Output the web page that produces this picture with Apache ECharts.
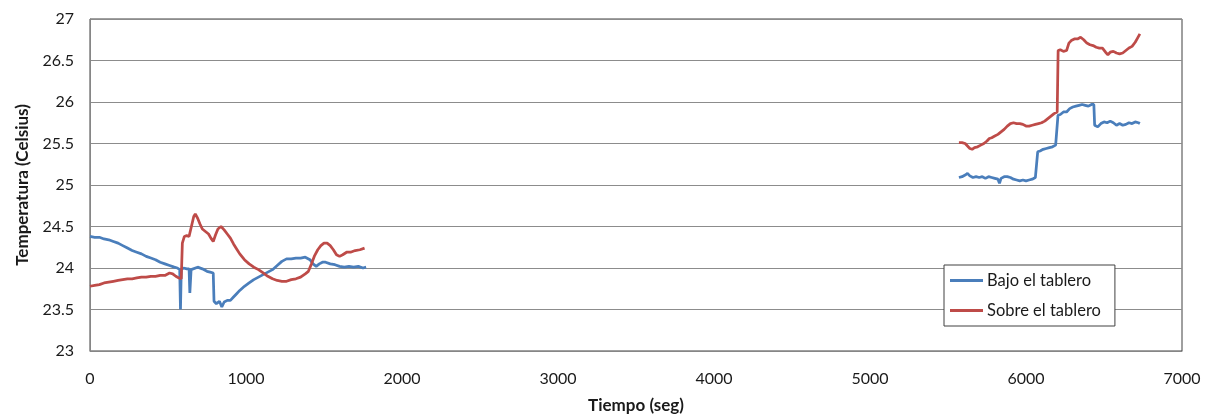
<!DOCTYPE html>
<html>
<head>
<meta charset="utf-8">
<script src="https://cdn.jsdelivr.net/npm/echarts@6/dist/echarts.min.js"></script>
<style>
  html, body { margin: 0; padding: 0; background: #fff; }
  #chart { width: 1216px; height: 417px; }
</style>
</head>
<body>
<div id="chart"></div>
<script>
// Temperature readings [time (s), °C], two recording sessions per sensor
const seriesNames = ['Bajo el tablero', 'Sobre el tablero'];

const bajoSesion1 = [
  [0,24.38],[30,24.37],[60,24.37],[90,24.35],[120,24.34],[150,24.32],[180,24.30],[210,24.27],
  [240,24.24],[270,24.21],[300,24.19],[330,24.17],[360,24.14],[390,24.12],[420,24.10],[450,24.07],
  [480,24.05],[510,24.03],[540,24.01],[560,24.00],[575,23.98],[580,23.50],[585,23.98],[600,24.00],
  [620,23.99],[635,23.99],[640,23.70],[648,23.98],[660,24.00],[690,24.01],[720,23.99],[750,23.96],
  [770,23.95],[790,23.94],[795,23.60],[810,23.57],[830,23.60],[845,23.53],[860,23.59],[880,23.61],
  [900,23.61],[920,23.65],[940,23.69],[960,23.73],[990,23.78],[1020,23.82],[1050,23.86],[1080,23.89],
  [1110,23.92],[1140,23.95],[1170,23.98],[1200,24.03],[1230,24.08],[1260,24.11],[1290,24.11],[1320,24.12],
  [1350,24.12],[1380,24.13],[1410,24.10],[1430,24.05],[1450,24.02],[1470,24.05],[1490,24.07],[1510,24.07],
  [1540,24.05],[1570,24.04],[1600,24.02],[1630,24.01],[1660,24.02],[1690,24.01],[1720,24.02],[1750,24.00],
  [1770,24.01]
];

const bajoSesion2 = [
  [5570,25.09],[5590,25.10],[5610,25.12],[5625,25.14],[5640,25.11],[5660,25.09],[5680,25.10],[5700,25.09],
  [5720,25.10],[5740,25.08],[5760,25.10],[5780,25.09],[5800,25.08],[5820,25.07],[5830,25.02],[5840,25.08],
  [5860,25.10],[5880,25.10],[5900,25.09],[5920,25.07],[5940,25.06],[5960,25.05],[5980,25.06],[6000,25.05],
  [6020,25.06],[6040,25.07],[6060,25.09],[6070,25.10],[6075,25.40],[6090,25.41],[6110,25.43],[6130,25.44],
  [6150,25.45],[6170,25.46],[6190,25.48],[6200,25.49],[6205,25.84],[6220,25.85],[6240,25.88],[6260,25.88],
  [6280,25.92],[6300,25.94],[6320,25.95],[6340,25.96],[6360,25.97],[6380,25.96],[6400,25.95],[6420,25.97],
  [6435,25.97],[6440,25.72],[6460,25.70],[6480,25.74],[6500,25.76],[6520,25.75],[6540,25.77],[6560,25.75],
  [6580,25.72],[6600,25.74],[6620,25.72],[6640,25.73],[6660,25.75],[6680,25.74],[6700,25.76],[6720,25.75],
  [6730,25.74]
];

const sobreSesion1 = [
  [0,23.78],[30,23.79],[60,23.80],[90,23.82],[120,23.83],[150,23.84],[180,23.85],[210,23.86],
  [240,23.87],[270,23.87],[300,23.88],[330,23.89],[360,23.89],[390,23.90],[420,23.90],[450,23.91],
  [480,23.91],[510,23.94],[530,23.93],[550,23.90],[570,23.88],[585,23.87],[592,24.30],[605,24.38],
  [620,24.39],[635,24.38],[650,24.50],[665,24.62],[675,24.65],[690,24.60],[705,24.53],[720,24.47],
  [740,24.44],[760,24.41],[775,24.36],[790,24.32],[805,24.40],[820,24.47],[840,24.50],[860,24.46],
  [880,24.41],[900,24.36],[920,24.29],[940,24.23],[960,24.17],[990,24.10],[1020,24.05],[1050,24.01],
  [1080,23.98],[1110,23.94],[1140,23.90],[1170,23.87],[1200,23.85],[1230,23.84],[1260,23.84],[1290,23.86],
  [1320,23.87],[1350,23.89],[1380,23.93],[1400,23.96],[1420,24.05],[1440,24.15],[1460,24.22],[1480,24.27],
  [1500,24.30],[1520,24.30],[1540,24.27],[1560,24.22],[1580,24.16],[1600,24.14],[1620,24.16],[1645,24.19],
  [1670,24.19],[1700,24.21],[1730,24.22],[1760,24.24]
];

const sobreSesion2 = [
  [5570,25.51],[5590,25.51],[5610,25.50],[5625,25.47],[5640,25.44],[5655,25.43],[5670,25.45],[5690,25.46],
  [5710,25.48],[5730,25.50],[5750,25.53],[5765,25.56],[5780,25.57],[5800,25.59],[5820,25.61],[5840,25.64],
  [5860,25.67],[5880,25.71],[5900,25.74],[5920,25.75],[5940,25.74],[5960,25.74],[5980,25.73],[6000,25.71],
  [6020,25.71],[6040,25.72],[6060,25.73],[6080,25.74],[6100,25.75],[6120,25.77],[6140,25.80],[6160,25.83],
  [6180,25.86],[6200,25.88],[6206,26.62],[6220,26.63],[6240,26.61],[6260,26.62],[6275,26.71],[6290,26.74],
  [6310,26.76],[6330,26.76],[6350,26.78],[6370,26.75],[6390,26.71],[6410,26.69],[6430,26.68],[6450,26.66],
  [6470,26.65],[6490,26.65],[6510,26.60],[6525,26.57],[6540,26.60],[6560,26.61],[6580,26.59],[6600,26.58],
  [6620,26.59],[6640,26.62],[6660,26.65],[6680,26.67],[6700,26.72],[6715,26.77],[6730,26.82]
];

// Axis settings
const xMin = 0, xMax = 7000, xStep = 1000;
const yMin = 23, yMax = 27, yStep = 0.5;
const xTitle = 'Tiempo (seg)';
const yTitle = 'Temperatura (Celsius)';

// A gap point between sessions keeps the line broken
const gap = [[3700, '-']];
const bajoData = bajoSesion1.concat(gap, bajoSesion2);
const sobreData = sobreSesion1.concat(gap, sobreSesion2);

const fontFamily = 'Lato, "Open Sans", sans-serif';
const chart = echarts.init(document.getElementById('chart'), null, { renderer: 'canvas' });

chart.setOption({
  animation: false,
  backgroundColor: '#ffffff',
  grid: {
    left: 90, right: 34, top: 19, bottom: 66,
    outerBoundsMode: 'none',
    show: true, borderColor: '#404040', borderWidth: 1, backgroundColor: 'transparent'
  },
  legend: {
    orient: 'vertical',
    left: 944, top: 265,
    backgroundColor: '#ffffff',
    borderColor: '#404040', borderWidth: 1,
    padding: [7, 14, 7, 6],
    itemGap: 13,
    itemWidth: 33, itemHeight: 3,
    icon: 'rect',
    textStyle: { fontFamily, fontSize: 16.5, color: '#1a1a1a', padding: [0, 0, 0, -1] },
    data: seriesNames
  },
  xAxis: {
    type: 'value', min: xMin, max: xMax, interval: xStep,
    name: xTitle, nameLocation: 'middle', nameGap: 46,
    nameTextStyle: { fontFamily, fontSize: 17, fontWeight: 'bold', color: '#1a1a1a' },
    axisLine: { show: true, lineStyle: { color: '#868686', width: 1 } },
    axisTick: { show: false },
    axisLabel: { fontFamily, fontSize: 16, color: '#1a1a1a', margin: 20, formatter: v => String(v) },
    splitLine: { show: false }
  },
  yAxis: {
    type: 'value', min: yMin, max: yMax, interval: yStep,
    name: yTitle, nameLocation: 'middle', nameGap: 59,
    nameTextStyle: { fontFamily, fontSize: 17, fontWeight: 'bold', color: '#1a1a1a' },
    axisLine: { show: true, lineStyle: { color: '#868686', width: 1 } },
    axisTick: { show: false },
    axisLabel: { fontFamily, fontSize: 16, color: '#1a1a1a', margin: 16 },
    splitLine: { show: true, lineStyle: { color: '#8c8c8c', width: 1 } }
  },
  series: [
    {
      name: seriesNames[0], type: 'line', data: bajoData,
      showSymbol: false, connectNulls: false,
      lineStyle: { color: '#4a7ebb', width: 2.75 },
      itemStyle: { color: '#4a7ebb' }
    },
    {
      name: seriesNames[1], type: 'line', data: sobreData,
      showSymbol: false, connectNulls: false,
      lineStyle: { color: '#be4b48', width: 2.75 },
      itemStyle: { color: '#be4b48' }
    }
  ]
});
</script>
</body>
</html>
